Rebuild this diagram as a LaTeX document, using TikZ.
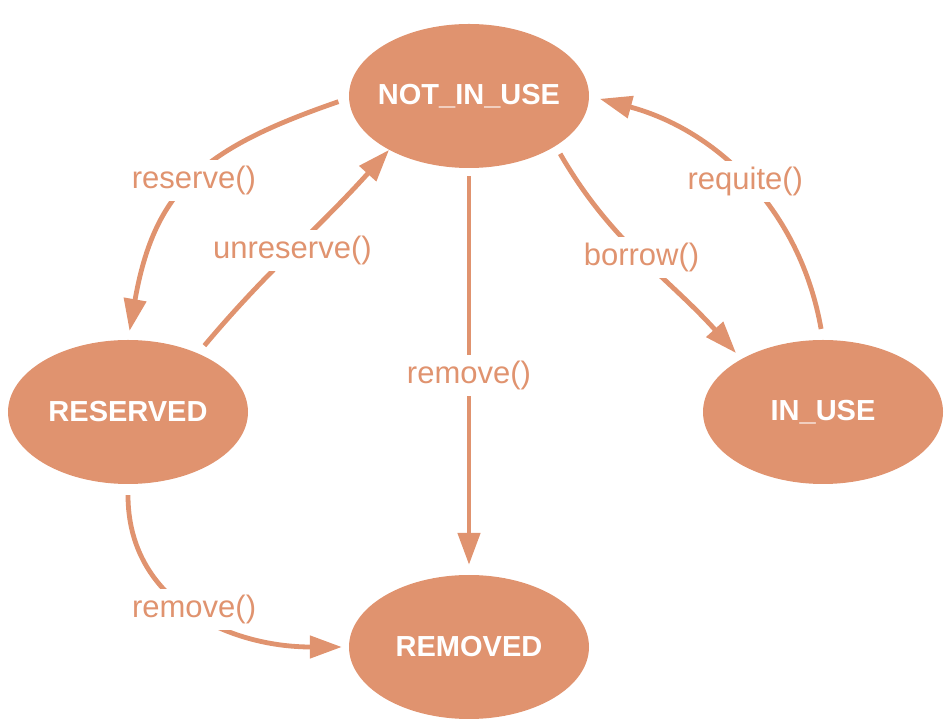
\documentclass[tikz,border=0pt]{standalone}
\usepackage{fontspec}
\setmainfont{Liberation Sans}
\usetikzlibrary{positioning,shapes.geometric,arrows.meta}
\definecolor{statecol}{HTML}{E0936F}

\begin{document}
\begin{tikzpicture}[x=1pt,y=1pt,
  state/.style={fill=statecol,ellipse,inner xsep=-12pt,inner ysep=0pt,
    minimum width=240pt,minimum height=144pt,
    text=white,font=\fontsize{29}{34}\selectfont\bfseries},
  trans/.style={draw=statecol,line width=4.8pt,-{Triangle[length=32pt,width=22pt]}},
  call/.style={fill=white,text=statecol,inner sep=6pt,font=\fontsize{31}{36}\selectfont}]
\useasboundingbox (0,0) rectangle (948,723);
% states
\node[state] (notinuse) at (469,627) {NOT\_IN\_USE};
\node[state] (reserved) at (128,311) {RESERVED};
\node[state] (inuse) at (823,311) {IN\_USE};
\node[state] (removed) at (469,76) {REMOVED};
% transitions
\draw[trans,shorten <=11pt,shorten >=9pt] (notinuse.181) to[out=199,in=80,looseness=1.2]
  node[call] (creserve) {reserve()} (reserved.north);
\draw[trans,shorten <=10pt] (reserved.40) to[out=50,in=228]
  node[call] (cunreserve) {unreserve()} (notinuse.214);
\draw[trans,shorten <=8pt,shorten >=10pt] (notinuse.south) --
  node[call,pos=0.51] (cremove) {remove()} (removed.north);
\draw[trans,shorten <=9pt,shorten >=8pt] (notinuse.-30) to[out=-60,in=132]
  node[call] (cborrow) {borrow()} (inuse.147);
\draw[trans,shorten <=11pt,shorten >=11pt] (inuse.north) to[out=100,in=-15]
  node[call] (crequite) {requite()} (notinuse.east);
\draw[trans,shorten <=11pt,shorten >=7pt] (reserved.south) to[out=-90,in=180,looseness=1.1]
  node[call] (cremoveres) {remove()} (removed.west);
\end{tikzpicture}
\end{document}
